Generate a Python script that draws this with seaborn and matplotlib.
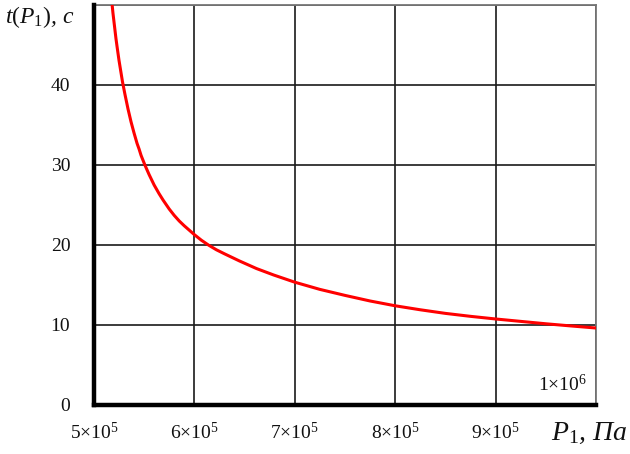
"""
t(P1) discharge-time curve, Mathcad-style grid plot.
"""

import matplotlib
matplotlib.use("Agg")
import matplotlib.pyplot as plt
import seaborn as sns

# values (pressure in units of 1e5 Pa, time in s)
pressure_e5 = [5.17, 5.182, 5.19, 5.205, 5.22, 5.232, 5.25, 5.285, 5.31, 5.34,
               5.37, 5.40, 5.43, 5.45, 5.47, 5.508, 5.55, 5.60, 5.65, 5.69,
               5.75, 5.80, 5.85, 5.90, 6.0, 6.07, 6.14, 6.22, 6.30, 6.45,
               6.62, 6.79, 7.0, 7.25, 7.5, 7.75, 8.0, 8.25, 8.5, 8.75,
               9.0, 9.25, 9.5, 9.75, 10.0]
time_s = [51.5, 50.0, 49.0, 47.4, 45.8, 44.7, 43.1, 40.4, 38.8, 37.0,
          35.4, 34.0, 32.7, 32.0, 31.2, 30.0, 28.8, 27.5, 26.4, 25.6,
          24.5, 23.7, 23.0, 22.4, 21.3, 20.6, 20.0, 19.4, 18.9, 18.0,
          17.05, 16.25, 15.35, 14.45, 13.7, 13.0, 12.4, 11.9, 11.45, 11.08,
          10.75, 10.45, 10.15, 9.88, 9.62]

x_ticks = [5, 6, 7, 8, 9, 10]
x_labels = [r"$5{\times}10^{5}$", r"$6{\times}10^{5}$", r"$7{\times}10^{5}$",
            r"$8{\times}10^{5}$", r"$9{\times}10^{5}$", ""]
y_ticks = [0, 10, 20, 30, 40, 50]
y_labels = ["0", "10", "20", "30", "40", ""]

sns.set_theme(style="white")
plt.rcParams["font.family"] = ["Liberation Serif", "DejaVu Serif"]
plt.rcParams["mathtext.fontset"] = "custom"
plt.rcParams["mathtext.rm"] = "Liberation Serif"
plt.rcParams["mathtext.it"] = "Liberation Serif:italic"

fig = plt.figure(figsize=(6.3, 4.54), dpi=100)
ax = fig.add_axes([0.149, 0.108, 0.797, 0.881])

sns.lineplot(x=pressure_e5, y=time_s, color="#ff0000", linewidth=2.2, ax=ax,
             sort=False, estimator=None, zorder=3)

ax.set_xlim(5, 10)
ax.set_ylim(0, 50)
ax.set_xticks(x_ticks)
ax.set_xticklabels(x_labels, fontsize=14)
ax.set_yticks(y_ticks)
ax.set_yticklabels(y_labels, fontsize=14)
ax.tick_params(axis="both", length=0, colors="#111111")
ax.tick_params(axis="y", pad=17)
ax.tick_params(axis="x", pad=12)
ax.grid(True, color="#1a1a1a", linewidth=1.2)

for side in ("left", "bottom"):
    ax.spines[side].set_color("black")
    ax.spines[side].set_linewidth(3.2)
    ax.spines[side].set_zorder(4)
for side in ("top", "right"):
    ax.spines[side].set_color("#777777")
    ax.spines[side].set_linewidth(1.3)

ax.text(9.91, 2.5, r"$1{\times}10^{6}$", fontsize=14, ha="right", va="center",
        color="#111111")

fig.text(0.008, 0.962, r"$t(P_{1})$, c", fontsize=17, style="italic",
         ha="left", va="center", color="#111111")
fig.text(0.874, 0.045, r"$P_{1}$, Па", fontsize=20, style="italic",
         ha="left", va="center", color="#111111")

fig.savefig("out.png", dpi=100)
